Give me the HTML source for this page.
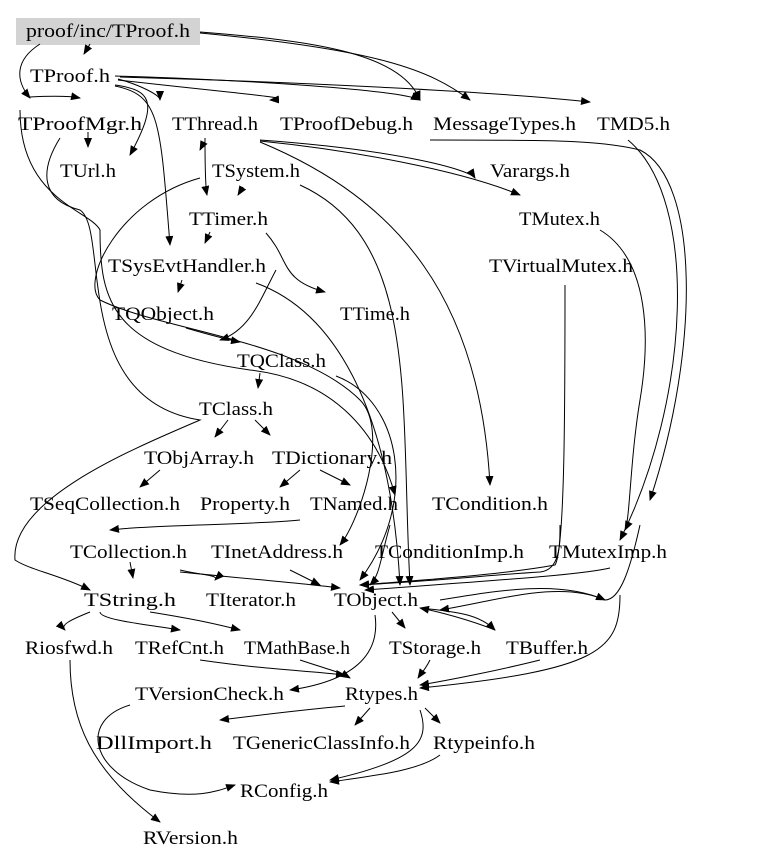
<!DOCTYPE html>
<html><head><style>
body{margin:0;background:#fff;}
svg text{font-family:"Liberation Serif",serif;font-size:19px;fill:#000;}
</style></head><body>
<svg width="779" height="862" viewBox="0 0 779 862" xmlns="http://www.w3.org/2000/svg">
<defs><marker id="a" markerWidth="10" markerHeight="8" refX="9" refY="4" orient="auto" markerUnits="userSpaceOnUse"><path d="M0,0 L10,4 L0,8 z" fill="#000"/></marker></defs>
<rect x="16" y="18" width="184" height="27" fill="#d3d3d3"/>
<g fill="none" stroke="#000" stroke-width="1" marker-end="url(#a)">
<path d="M90,44 L84,54"/>
<path d="M40,44 C15,60 15,80 30,98"/>
<path d="M200,32 C300,40 400,50 420,100"/>
<path d="M200,33 C380,50 430,70 470,100"/>
<path d="M115,76 C250,80 400,90 420,100"/>
<path d="M120,77 C300,82 500,92 590,102"/>
<path d="M118,79 C140,85 160,95 160,100"/>
<path d="M30,97 C50,96 70,96 80,98"/>
<path d="M115,85 C150,90 160,100 130,155"/>
<path d="M115,86 C160,95 160,120 170,245"/>
<path d="M118,80 C250,95 300,98 270,100"/>
<path d="M88,132 L88,147"/>
<path d="M60,138 C40,170 40,200 80,210 C110,230 70,400 200,420 C130,450 10,500 15,560 C30,570 60,575 90,590"/>
<path d="M20,110 C20,200 90,210 100,230 C100,300 110,350 250,370 C340,380 380,440 395,495"/>
<path d="M204,142 L200,150"/>
<path d="M205,138 C205,160 205,185 207,195"/>
<path d="M260,140 C400,150 470,170 475,178"/>
<path d="M260,141 C350,150 460,170 520,195"/>
<path d="M260,142 C400,200 480,300 490,485"/>
<path d="M243,187 L238,195"/>
<path d="M200,178 C120,200 80,280 100,300 C160,330 300,340 360,400 C390,430 360,520 340,545"/>
<path d="M300,185 C420,240 400,400 410,585"/>
<path d="M210,232 L205,243"/>
<path d="M266,233 C290,260 280,280 325,292"/>
<path d="M276,270 C260,300 250,330 220,340"/>
<path d="M182,280 L178,292"/>
<path d="M256,283 C330,310 390,400 400,585"/>
<path d="M186,328 C210,335 230,340 240,342"/>
<path d="M260,373 L258,388"/>
<path d="M336,376 C400,400 420,500 360,580"/>
<path d="M228,420 L215,437"/>
<path d="M255,420 L270,435"/>
<path d="M160,470 L140,487"/>
<path d="M320,470 L350,485"/>
<path d="M300,470 L280,487"/>
<path d="M300,520 C250,525 150,525 110,530"/>
<path d="M390,525 C380,560 380,575 370,585"/>
<path d="M560,525 C560,545 560,570 540,572 C490,575 450,580 360,585"/>
<path d="M565,285 C565,400 565,550 555,565 C500,575 420,580 360,585"/>
<path d="M600,230 C650,260 650,340 640,400 C630,460 630,520 625,530"/>
<path d="M610,568 C580,575 500,580 365,590"/>
<path d="M130,562 L133,578"/>
<path d="M180,570 C200,575 220,575 215,580"/>
<path d="M180,572 C260,580 300,583 340,588"/>
<path d="M290,570 L320,585"/>
<path d="M90,612 C70,620 60,625 65,630"/>
<path d="M100,612 C100,620 150,625 180,630"/>
<path d="M150,612 C200,620 220,625 240,630"/>
<path d="M392,612 L405,628"/>
<path d="M420,608 C460,612 480,615 495,630"/>
<path d="M495,630 C470,620 440,612 420,608"/>
<path d="M375,615 C380,650 360,680 290,690"/>
<path d="M200,660 C270,670 300,670 345,675"/>
<path d="M300,660 C330,670 340,672 350,678"/>
<path d="M430,660 C425,670 420,675 418,678"/>
<path d="M540,660 C500,670 450,680 420,685"/>
<path d="M620,595 C620,650 600,670 420,688"/>
<path d="M640,525 C630,570 620,600 605,600 C560,580 500,600 440,610"/>
<path d="M440,600 C500,590 560,580 605,600"/>
<path d="M345,706 C300,710 260,715 220,720"/>
<path d="M370,708 L355,725"/>
<path d="M425,708 L440,723"/>
<path d="M420,710 C430,740 420,760 330,780"/>
<path d="M440,755 C420,770 380,775 330,782"/>
<path d="M130,705 C80,720 90,770 150,790 C200,800 220,790 235,785"/>
<path d="M70,660 C70,720 90,770 160,822"/>
<path d="M628,140 C700,200 690,400 620,540"/>
<path d="M430,140 C550,140 600,140 640,150 C700,180 700,350 650,500"/>
</g>
<g lengthAdjust="spacingAndGlyphs">
<text x="26" y="37" textLength="164" lengthAdjust="spacingAndGlyphs">proof/inc/TProof.h</text>
<text x="30" y="82" textLength="80" lengthAdjust="spacingAndGlyphs">TProof.h</text>
<text x="18" y="130" textLength="124" lengthAdjust="spacingAndGlyphs">TProofMgr.h</text>
<text x="172" y="130" textLength="86" lengthAdjust="spacingAndGlyphs">TThread.h</text>
<text x="280" y="130" textLength="133" lengthAdjust="spacingAndGlyphs">TProofDebug.h</text>
<text x="433" y="130" textLength="143" lengthAdjust="spacingAndGlyphs">MessageTypes.h</text>
<text x="597" y="130" textLength="73" lengthAdjust="spacingAndGlyphs">TMD5.h</text>
<text x="60" y="177" textLength="56" lengthAdjust="spacingAndGlyphs">TUrl.h</text>
<text x="212" y="177" textLength="88" lengthAdjust="spacingAndGlyphs">TSystem.h</text>
<text x="490" y="177" textLength="80" lengthAdjust="spacingAndGlyphs">Varargs.h</text>
<text x="189" y="225" textLength="79" lengthAdjust="spacingAndGlyphs">TTimer.h</text>
<text x="519" y="225" textLength="81" lengthAdjust="spacingAndGlyphs">TMutex.h</text>
<text x="108" y="272" textLength="158" lengthAdjust="spacingAndGlyphs">TSysEvtHandler.h</text>
<text x="489" y="272" textLength="144" lengthAdjust="spacingAndGlyphs">TVirtualMutex.h</text>
<text x="112" y="320" textLength="102" lengthAdjust="spacingAndGlyphs">TQObject.h</text>
<text x="340" y="320" textLength="70" lengthAdjust="spacingAndGlyphs">TTime.h</text>
<text x="237" y="367" textLength="89" lengthAdjust="spacingAndGlyphs">TQClass.h</text>
<text x="199" y="415" textLength="74" lengthAdjust="spacingAndGlyphs">TClass.h</text>
<text x="144" y="464" textLength="110" lengthAdjust="spacingAndGlyphs">TObjArray.h</text>
<text x="272" y="464" textLength="120" lengthAdjust="spacingAndGlyphs">TDictionary.h</text>
<text x="30" y="510" textLength="150" lengthAdjust="spacingAndGlyphs">TSeqCollection.h</text>
<text x="200" y="510" textLength="90" lengthAdjust="spacingAndGlyphs">Property.h</text>
<text x="310" y="510" textLength="88" lengthAdjust="spacingAndGlyphs">TNamed.h</text>
<text x="432" y="510" textLength="116" lengthAdjust="spacingAndGlyphs">TCondition.h</text>
<text x="70" y="558" textLength="117" lengthAdjust="spacingAndGlyphs">TCollection.h</text>
<text x="211" y="558" textLength="132" lengthAdjust="spacingAndGlyphs">TInetAddress.h</text>
<text x="375" y="558" textLength="149" lengthAdjust="spacingAndGlyphs">TConditionImp.h</text>
<text x="549" y="558" textLength="118" lengthAdjust="spacingAndGlyphs">TMutexImp.h</text>
<text x="84" y="606" textLength="92" lengthAdjust="spacingAndGlyphs">TString.h</text>
<text x="206" y="606" textLength="90" lengthAdjust="spacingAndGlyphs">TIterator.h</text>
<text x="334" y="606" textLength="84" lengthAdjust="spacingAndGlyphs">TObject.h</text>
<text x="25" y="654" textLength="88" lengthAdjust="spacingAndGlyphs">Riosfwd.h</text>
<text x="135" y="654" textLength="89" lengthAdjust="spacingAndGlyphs">TRefCnt.h</text>
<text x="244" y="654" textLength="106" lengthAdjust="spacingAndGlyphs">TMathBase.h</text>
<text x="389" y="654" textLength="92" lengthAdjust="spacingAndGlyphs">TStorage.h</text>
<text x="506" y="654" textLength="82" lengthAdjust="spacingAndGlyphs">TBuffer.h</text>
<text x="135" y="700" textLength="149" lengthAdjust="spacingAndGlyphs">TVersionCheck.h</text>
<text x="345" y="700" textLength="73" lengthAdjust="spacingAndGlyphs">Rtypes.h</text>
<text x="96" y="749" textLength="116" lengthAdjust="spacingAndGlyphs">DllImport.h</text>
<text x="233" y="749" textLength="177" lengthAdjust="spacingAndGlyphs">TGenericClassInfo.h</text>
<text x="433" y="749" textLength="102" lengthAdjust="spacingAndGlyphs">Rtypeinfo.h</text>
<text x="240" y="797" textLength="88" lengthAdjust="spacingAndGlyphs">RConfig.h</text>
<text x="143" y="844" textLength="95" lengthAdjust="spacingAndGlyphs">RVersion.h</text>
</g>
</svg>
</body></html>
